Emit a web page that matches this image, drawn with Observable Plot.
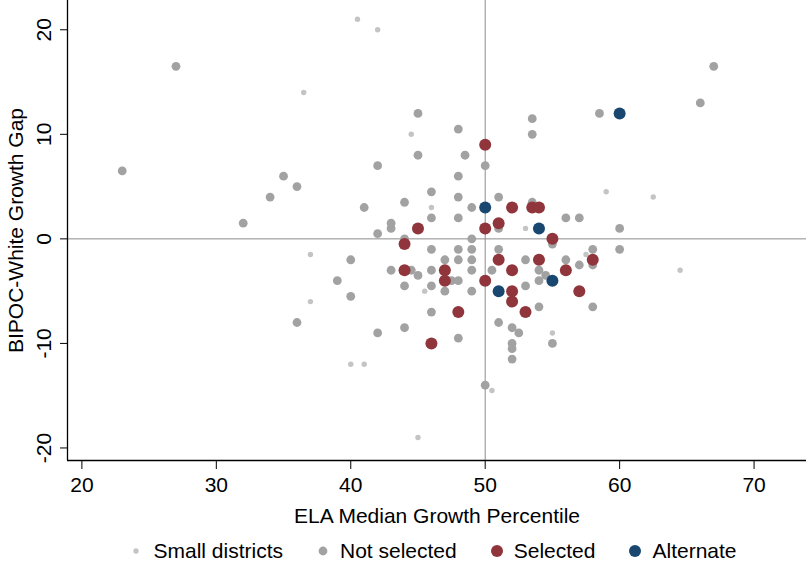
<!DOCTYPE html>
<html>
<head>
<meta charset="utf-8">
<script src="https://cdn.jsdelivr.net/npm/d3@7"></script>
<script src="https://cdn.jsdelivr.net/npm/@observablehq/plot@0.6"></script>
<style>
  body { margin: 0; background: #fff; font-family: "Liberation Sans", Arial, sans-serif; }
  #legend { display: flex; justify-content: center; align-items: center; gap: 33px; margin-top: 5px; padding-left: 60px; font-size: 21px; line-height: 24px; color: #000; }
  #legend .item { display: flex; align-items: center; gap: 10px; }
</style>
</head>
<body>
<div id="chart"></div>
<div id="legend"></div>
<script>
// Group names, colours, marker radii
const groups = ["Small districts", "Not selected", "Selected", "Alternate"];
const colors = ["#c4c4c4", "#a2a2a2", "#90353b", "#1a476f"];
const radii = [2.7, 4.4, 6, 6];

// Axis ticks and domains
const xTicks = [20, 30, 40, 50, 60, 70];
const yTicks = [-20, -10, 0, 10, 20];
const xDomain = [18.93, 73.9];
const yDomain = [-21.2, 22.8];
const refX = [50];
const refY = [0];

// [ELA median growth percentile, BIPOC-White growth gap]
const smallDistricts = [
  [40.5, 21], [42, 20], [36.5, 14], [44.5, 10], [46, 3], [59, 4.5], [62.5, 4], [53, 1],
  [37, -1.5], [57.5, -1.5], [64.5, -3], [45.5, -5], [37, -6], [55, -9], [40, -12], [41, -12],
  [50.5, -14.5], [45, -19]
];
const notSelected = [
  [27, 16.5], [23, 6.5], [35, 6], [36, 5], [34, 4], [32, 1.5],
  [45, 12], [48, 10.5], [45, 8], [48.5, 8], [42, 7], [50, 7], [48, 6], [46, 4.5], [48, 4], [51, 4],
  [41, 3], [44, 3.5], [49, 3], [43, 1.5], [43, 1], [46, 2], [48, 2], [42, 0.5], [44, 0], [49, 0],
  [53.5, 11.5], [53.5, 10], [58.5, 12], [66, 13], [67, 16.5], [53.5, 3.5], [56, 2], [57, 2], [60, 1], [51, 1],
  [55, -0.5], [36, -8],
  [46, -1], [48, -1], [49, -1], [51, -1], [40, -2], [47, -2], [48, -2], [49, -2], [43, -3], [44.5, -3],
  [45, -3.5], [46, -3], [49, -3], [50.5, -3], [39, -4], [44, -4.5], [46, -4.5], [47.5, -4], [48, -4],
  [47, -5], [49, -5], [40, -5.5], [46, -7], [51, -8], [42, -9], [44, -8.5], [48, -9.5], [50, -14],
  [58, -1], [60, -1], [53, -2], [56, -2], [58, -2.5], [57, -2.5], [54, -3], [54.5, -3.5], [53, -4.5],
  [54, -4], [54, -6.5], [58, -6.5], [52, -8.5], [52.5, -9], [55, -10], [52, -10], [52, -10.5], [52, -11.5]
];
const selected = [
  [50, 9], [45, 1], [50, 1], [51, 1.5], [52, 3], [53.5, 3], [54, 3], [55, 0], [44, -0.5], [51, -2],
  [44, -3], [47, -3], [47, -4], [50, -4], [48, -7], [46, -10], [54, -2], [58, -2], [52, -3], [56, -3],
  [52, -5], [57, -5], [52, -6], [53, -7]
];
const alternate = [
  [50, 3], [60, 12], [54, 1], [51, -5], [55, -4]
];

const seriesList = [smallDistricts, notSelected, selected, alternate];

const dotMarks = seriesList.map((arr, i) =>
  Plot.dot(arr, {x: d => d[0], y: d => d[1], r: radii[i], fill: colors[i], stroke: "none"})
);

const chart = Plot.plot({
  width: 806,
  height: 534,
  marginTop: 0,
  marginRight: 0,
  marginLeft: 67,
  marginBottom: 74,
  style: {fontFamily: "Liberation Sans, Arial, sans-serif", fontSize: "21px", color: "#000", background: "#fff"},
  x: {domain: xDomain},
  y: {domain: yDomain},
  marks: [
    Plot.ruleX(refX, {stroke: "#8c8c8c", strokeWidth: 1}),
    Plot.ruleY(refY, {stroke: "#8c8c8c", strokeWidth: 1}),
    ...dotMarks,
    Plot.ruleX([xDomain[0]], {stroke: "#000", strokeWidth: 1.3}),
    Plot.ruleY([yDomain[0]], {stroke: "#000", strokeWidth: 1.3}),
    Plot.axisX({ticks: xTicks, tickSize: 9, tickPadding: 8, tickFormat: d => String(d),
      label: "ELA Median Growth Percentile", labelAnchor: "center", labelArrow: "none", labelOffset: 62}),
    Plot.axisY({ticks: yTicks, tickSize: 7, tickPadding: 10, tickRotate: -90, tickFormat: d => String(d),
      label: "BIPOC-White Growth Gap", labelAnchor: "center", labelArrow: "none", labelOffset: 59})
  ]
});
document.getElementById("chart").appendChild(chart);

// Legend
const legend = d3.select("#legend");
groups.forEach((g, i) => {
  const item = legend.append("div").attr("class", "item");
  const s = item.append("svg").attr("width", 14).attr("height", 14);
  s.append("circle").attr("cx", 7).attr("cy", 7).attr("r", radii[i]).attr("fill", colors[i]);
  item.append("span").text(g);
});
</script>
</body>
</html>
